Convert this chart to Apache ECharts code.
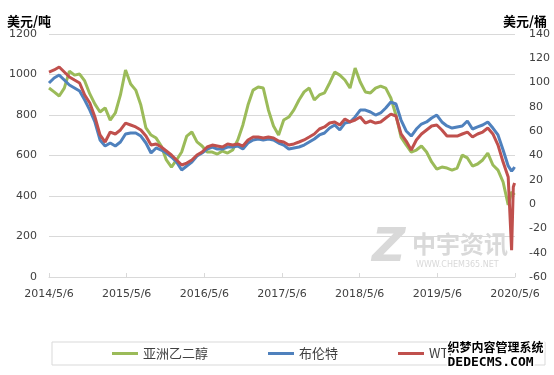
<!DOCTYPE html>
<html><head><meta charset="utf-8">
<script src="https://cdn.jsdelivr.net/npm/echarts@6/dist/echarts.min.js"></script>
<style>html,body{margin:0;padding:0;background:#fff}#c{width:554px;height:375px}</style>
</head><body><div id="c"></div>
<script>
// ---- data ----
const startDate = '2014-05-06';
const endDate = '2020-05-06';
const stepDays = 24;
const regularCount = 91;
const tailDates = ['2020-04-20', '2020-04-28', '2020-05-04'];
const xTickLabels = ['2014/5/6','2015/5/6','2016/5/6','2017/5/6','2018/5/6','2019/5/6','2020/5/6'];
const seriesNames = ['亚洲乙二醇', '布伦特', 'WTI'];
const leftUnit = '美元/吨';
const rightUnit = '美元/桶';

// 亚洲乙二醇 (USD/t, left axis)
const meg = [933,914,894,933,1017,997,1002,968,904,854,
  815,835,775,810,899,1022,953,923,849,736,
  701,686,647,578,543,578,617,696,716,667,
  647,617,617,607,622,612,627,677,751,849,
  923,938,933,825,746,701,775,790,825,874,
  914,933,874,899,909,958,1012,997,973,933,
  1032,963,914,909,933,943,933,884,800,691,
  652,617,627,647,617,568,533,543,538,528,
  538,602,588,548,558,578,612,553,528,469,
  356,420,415,405];
// 布伦特 (USD/bbl, right axis)
const brent = [99.7,103.8,106.2,102.1,98.0,95.6,93.1,85.7,77.4,67.6,
  52.8,47.8,50.3,47.8,51.1,57.7,58.5,58.5,56.0,50.3,
  42.1,46.2,44.5,42.1,38.8,34.6,28.1,31.4,34.6,39.6,
  42.1,45.3,47.0,45.3,45.3,47.0,47.0,47.8,45.3,50.3,
  52.8,53.6,52.8,53.6,52.8,50.3,48.6,45.3,46.2,47.0,
  48.6,51.1,53.6,56.9,58.5,62.6,65.1,61.0,66.7,67.6,
  71.7,77.4,77.4,75.8,73.3,75.0,79.1,84.0,82.4,69.2,
  60.2,56.0,61.8,65.9,67.6,70.9,73.3,67.6,64.3,62.6,
  63.5,64.3,68.4,61.8,63.5,65.1,67.6,62.6,56.9,44.5,
  31.4,27.2,28.9,30.5];
// WTI (USD/bbl, right axis)
const wti = [108.7,110.4,112.8,108.7,104.6,102.1,99.7,89.8,83.2,71.7,
  56.9,51.1,59.3,57.7,61.0,66.7,65.1,63.5,61.0,56.0,
  48.6,49.5,47.0,43.7,40.4,36.3,32.2,33.8,36.3,40.4,
  42.9,47.0,48.6,47.8,47.0,49.5,48.6,49.5,47.8,52.8,
  55.2,55.2,54.4,55.2,54.4,51.9,51.1,48.6,49.5,51.1,
  52.8,55.2,57.7,61.8,63.5,66.7,67.6,65.1,70.0,67.6,
  69.2,71.7,66.7,68.4,66.7,67.6,70.9,74.1,72.5,57.7,
  51.9,44.5,52.8,57.7,61.0,64.3,65.1,61.0,56.0,56.0,
  56.0,57.7,59.3,55.2,57.7,59.3,62.6,57.7,48.6,34.6,
  22.3,-38,14.1,17.4];

// ---- build ----
const DAY = 86400000;
const t0 = Date.parse(startDate);
const spanDays = Math.round((Date.parse(endDate) - t0) / DAY);
const yearSpan = spanDays / (xTickLabels.length - 1);
const dayOffsets = [];
for (let i = 0; i < regularCount; i++) dayOffsets.push(i * stepDays);
tailDates.forEach(d => dayOffsets.push(Math.round((Date.parse(d) - t0) / DAY)));
const xs = dayOffsets.map(d => d / yearSpan);
const pair = arr => arr.map((v, i) => [xs[i], v]);

const numFont = 'DejaVu Sans';
const cjkFont = 'Noto Sans CJK SC';
const plain = v => String(Math.round(v));
const chart = echarts.init(document.getElementById('c'), null, {renderer: 'canvas'});
chart.setOption({
  animation: false,
  backgroundColor: '#fff',
  color: ['#9bbb59', '#4f81bd', '#c0504d'],
  grid: {left: 49, right: 39, top: 34, bottom: 98},
  xAxis: {
    type: 'value', min: 0, max: xTickLabels.length - 1, interval: 1,
    axisLine: {show: true, onZero: false, lineStyle: {color: '#d9d9d9', width: 1}},
    axisTick: {show: true, inside: true, length: 4, lineStyle: {color: '#d9d9d9'}},
    splitLine: {show: false},
    axisLabel: {
      margin: 12, color: '#404040', fontSize: 11, fontFamily: numFont,
      formatter: v => xTickLabels[Math.round(v)] || ''
    }
  },
  yAxis: [{
    type: 'value', min: 0, max: 1200, interval: 200, position: 'left',
    name: leftUnit, nameLocation: 'end', nameGap: 6,
    nameTextStyle: {fontSize: 13, fontWeight: 'bold', color: '#000', fontFamily: cjkFont, padding: [0, 40, 0, 0]},
    axisLine: {show: false}, axisTick: {show: false},
    splitLine: {show: true, lineStyle: {color: '#d9d9d9', width: 1}},
    axisLabel: {margin: 12, color: '#404040', fontSize: 11, fontFamily: numFont, formatter: plain}
  }, {
    type: 'value', min: -60, max: 140, interval: 20, position: 'right',
    name: rightUnit, nameLocation: 'end', nameGap: 6,
    nameTextStyle: {fontSize: 13, fontWeight: 'bold', color: '#000', fontFamily: cjkFont, padding: [0, 0, 0, 20]},
    axisLine: {show: false}, axisTick: {show: false},
    splitLine: {show: false},
    axisLabel: {margin: 14, color: '#404040', fontSize: 11, fontFamily: numFont, formatter: plain}
  }],
  legend: {
    left: 52, top: 342,
    padding: [5, 93, 5, 60],
    itemGap: 60, itemWidth: 26, itemHeight: 3, icon: 'rect',
    borderColor: '#d9d9d9', borderWidth: 1,
    textStyle: {fontSize: 13, color: '#404040', fontFamily: cjkFont},
    data: seriesNames
  },
  graphic: [
    {type: 'text', left: 372, top: 226, z: 0, silent: true,
      style: {text: 'Z', font: 'italic bold 46px DejaVu Sans', fill: '#d9d9d9'}},
    {type: 'text', left: 412, top: 232, z: 0, silent: true,
      style: {text: '中宇资讯', font: 'bold 24px "Noto Sans CJK SC"', fill: '#d9d9d9'}},
    {type: 'text', left: 416, top: 261, z: 0, silent: true,
      style: {text: 'WWW.CHEM365.NET', font: '8px "DejaVu Sans"', fill: '#d9d9d9'}},
    {type: 'text', left: 446, top: 340, z: 100, silent: true,
      style: {text: '织梦内容管理系统', font: 'bold 12px "Noto Sans CJK SC"', fill: '#000', stroke: '#fff', lineWidth: 3}},
    {type: 'text', left: 446, top: 355, z: 100, silent: true,
      style: {text: 'DEDECMS.COM', font: 'bold 13px "DejaVu Sans Mono"', fill: '#000', stroke: '#fff', lineWidth: 3}}
  ],
  series: [
    {name: seriesNames[0], type: 'line', yAxisIndex: 0, data: pair(meg), showSymbol: false, lineStyle: {width: 3}},
    {name: seriesNames[1], type: 'line', yAxisIndex: 1, data: pair(brent), showSymbol: false, lineStyle: {width: 3}},
    {name: seriesNames[2], type: 'line', yAxisIndex: 1, data: pair(wti), showSymbol: false, lineStyle: {width: 3}}
  ]
});
</script></body></html>
